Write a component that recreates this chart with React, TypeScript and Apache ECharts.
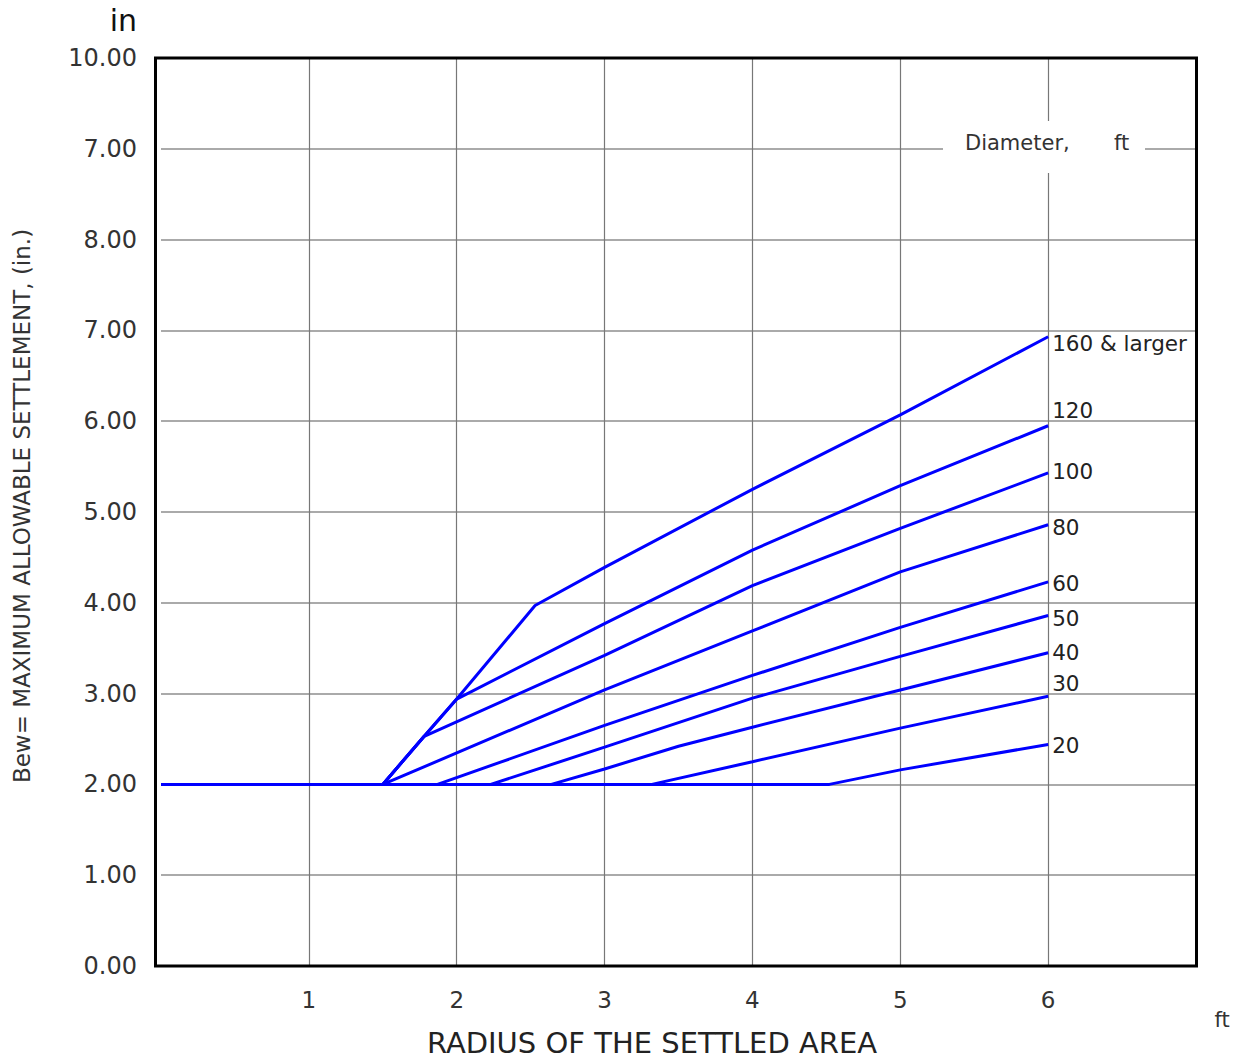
import React, { useEffect, useRef } from "react";
import * as echarts from "echarts";

// Tick labels (as printed on the original, including its "7.00" at the 9 line)
const xTickLabels = ["", "1", "2", "3", "4", "5", "6", ""];
const yTickLabels = ["0.00", "1.00", "2.00", "3.00", "4.00", "5.00", "6.00", "7.00", "8.00", "7.00", "10.00"];

// Tank diameters (ft)
const diameterNames = ["160 & larger", "120", "100", "80", "60", "50", "40", "30", "20"];

// Curves: [radius ft, settlement in]
const curve160 = [[0, 2], [1.5, 2], [1.78, 2.53], [2.0, 2.94], [2.53, 3.97], [3, 4.39], [4, 5.25], [5, 6.07], [6, 6.93]];
const curve120 = [[0, 2], [1.5, 2], [1.78, 2.53], [2.0, 2.94], [3, 3.77], [4, 4.58], [5, 5.29], [6, 5.95]];
const curve100 = [[0, 2], [1.5, 2], [1.78, 2.53], [3, 3.42], [4, 4.19], [5, 4.82], [6, 5.43]];
const curve80 = [[0, 2], [1.5, 2], [3, 3.04], [4, 3.69], [5, 4.34], [6, 4.86]];
const curve60 = [[0, 2], [1.87, 2], [3, 2.65], [4, 3.2], [5, 3.73], [6, 4.23]];
const curve50 = [[0, 2], [2.23, 2], [3, 2.41], [4, 2.95], [5, 3.41], [6, 3.86]];
const curve40 = [[0, 2], [2.64, 2], [3, 2.17], [3.5, 2.42], [4, 2.63], [5, 3.04], [6, 3.45]];
const curve30 = [[0, 2], [3.32, 2], [4, 2.25], [5, 2.62], [6, 2.97]];
const curve20 = [[0, 2], [4.52, 2], [5, 2.16], [6, 2.44]];

const curves = [curve160, curve120, curve100, curve80, curve60, curve50, curve40, curve30, curve20];

// Label vertical nudges (px) for the end labels
const labelDy = [7, -15, -1, 3, 2, 3, 0, -13, 1];

export default function App() {
  const ref = useRef<HTMLDivElement>(null);

  useEffect(() => {
    if (!ref.current) return;
    const chart = echarts.init(ref.current, null, { renderer: "svg" });
    const font = "DejaVu Sans";
    chart.setOption({
      animation: false,
      backgroundColor: "#ffffff",
      grid: { left: 161, right: 44, top: 58, bottom: 98 },
      xAxis: {
        type: "value",
        min: 0,
        max: 7,
        interval: 1,
        axisLine: { show: false },
        axisTick: { show: false },
        axisLabel: {
          margin: 22,
          fontSize: 23,
          color: "#333",
          fontFamily: font,
          formatter: (v: number) => xTickLabels[Math.round(v)] ?? "",
        },
        splitLine: {
          show: true,
          showMinLine: false,
          showMaxLine: false,
          lineStyle: { color: "#777", width: 1.2 },
        },
      },
      yAxis: {
        type: "value",
        min: 0,
        max: 10,
        interval: 1,
        axisLine: { show: false },
        axisTick: { show: false },
        axisLabel: {
          margin: 24,
          fontSize: 24,
          color: "#333",
          fontFamily: font,
          formatter: (v: number) => yTickLabels[Math.round(v)] ?? "",
        },
        splitLine: { show: true, lineStyle: { color: "#aaa", width: 2 } },
      },
      series: curves.map((c, i) => ({
        type: "line",
        name: diameterNames[i],
        data: c,
        symbol: "none",
        z: 3,
        lineStyle: { color: "#0000ff", width: 3 },
        itemStyle: { color: "#0000ff" },
        endLabel: {
          show: true,
          formatter: diameterNames[i],
          distance: 4,
          offset: [0, labelDy[i]],
          fontSize: 21.5,
          color: "#222",
          fontFamily: font,
        },
      })),
      graphic: [
        {
          type: "rect",
          z: 100,
          shape: { x: 155.5, y: 58, width: 1041, height: 908 },
          style: { fill: "none", stroke: "#000", lineWidth: 3 },
        },
        {
          type: "rect",
          z: 50,
          shape: { x: 943, y: 121, width: 202, height: 52 },
          style: { fill: "#fff" },
        },
        {
          type: "text",
          z: 51,
          x: 965,
          y: 143,
          style: { text: "Diameter,", fontSize: 21, fontFamily: font, fill: "#333", verticalAlign: "middle" },
        },
        {
          type: "text",
          z: 51,
          x: 1114,
          y: 143,
          style: { text: "ft", fontSize: 21, fontFamily: font, fill: "#333", verticalAlign: "middle" },
        },
        {
          type: "text",
          z: 51,
          x: 137,
          y: 20,
          style: { text: "in", fontSize: 30, fontFamily: font, fill: "#111", align: "right", verticalAlign: "middle" },
        },
        {
          type: "text",
          z: 51,
          x: 22,
          y: 506,
          rotation: Math.PI / 2,
          style: {
            text: "Bew= MAXIMUM ALLOWABLE SETTLEMENT, (in.)",
            fontSize: 23,
            fontFamily: font,
            fill: "#333",
            align: "center",
            verticalAlign: "middle",
          },
        },
        {
          type: "text",
          z: 51,
          x: 652,
          y: 1043,
          style: {
            text: "RADIUS OF THE SETTLED AREA",
            fontSize: 29,
            fontFamily: font,
            fill: "#222",
            align: "center",
            verticalAlign: "middle",
          },
        },
        {
          type: "text",
          z: 51,
          x: 1222,
          y: 1020,
          style: { text: "ft", fontSize: 21, fontFamily: font, fill: "#333", align: "center", verticalAlign: "middle" },
        },
      ],
    });
    return () => chart.dispose();
  }, []);

  return (
    <div
      ref={ref}
      style={{ position: "fixed", left: 0, top: 0, width: 1240, height: 1064, background: "#fff" }}
    />
  );
}
